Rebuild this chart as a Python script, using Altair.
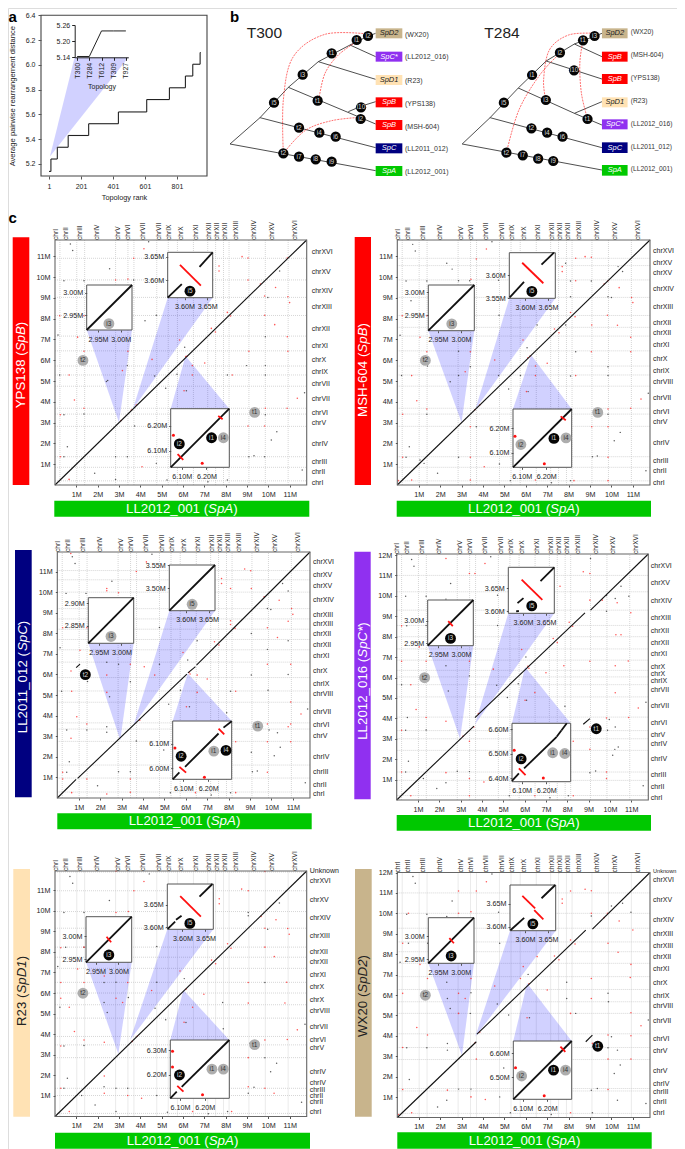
import altair as alt

FONT = "Liberation Sans"
W, H = 669, 1141

# ---------- panel a values ----------
RANK_BREAKS = [1, 13, 53, 121, 249, 435, 612, 754, 854, 900, 946]
RANK_LEVELS = [5.14, 5.24, 5.335, 5.43, 5.525, 5.62, 5.72, 5.815, 5.91, 6.005, 6.10]
TOPOLOGIES = ["T300", "T284", "T612", "T309", "T927"]
TOPOLOGY_VALUES = [5.143, 5.143, 5.238, 5.238, 5.238]

# ---------- panel b values (tree units) ----------
T300_BRANCHES = [(15,432,105,353),(105,353,190,262),(190,262,280,185),(280,185,375,135),(375,135,430,108),
                 (430,108,452,100),(15,432,452,512),(105,353,452,443),(190,262,395,348),(395,348,452,372),
                 (370,335,410,318),(410,318,452,305),(280,185,452,238),(375,135,452,170)]
T300_NODES = [(147,308,"i5"),(233,224,"i3"),(320,160,"t1"),(395,120,"i1"),(429,108,"i2"),(278,302,"t1"),
              (408,322,"i10"),(407,357,"i2"),(222,383,"t2"),(283,398,"i4"),(332,410,"i6"),(175,460,"t2"),
              (222,470,"i7"),(272,478,"i8"),(320,485,"i9")]
T300_ARCS = [[(175,460),(175,300),(205,170),(300,103),(429,102)],
             [(175,460),(240,392),(320,362),(407,352)],
             [(283,290),(300,220),(340,165),(395,125)]]
T300_TIPS = [("SpD2","(WX20)",85,115,105,"tan"),("SpC*","(LL2012_016)",155,185,172,"purple"),
             ("SpD1","(R23)",225,255,243,"moccasin"),("SpB","(YPS138)",292,322,311,"red"),
             ("SpB","(MSH-604)",360,390,380,"red"),("SpC","(LL2011_012)",430,460,448,"navy"),
             ("SpA","(LL2012_001)",498,528,516,"green")]
T284_BRANCHES = [(38,432,125,353),(125,353,213,264),(213,264,300,183),(300,183,388,132),(388,132,474,100),
                 (38,432,474,510),(125,353,474,443),(213,264,388,340),(388,340,474,375),(388,340,474,305),
                 (300,183,474,237),(388,132,474,170)]
T284_NODES = [(168,308,"i5"),(256,225,"i1"),(343,158,"i2"),(415,121,"t1"),(451,108,"i3"),(299,300,"i3"),
              (387,211,"i10"),(429,357,"t1"),(254,385,"t2"),(303,398,"i4"),(351,410,"i6"),(176,458,"t2"),
              (227,466,"i7"),(275,476,"i8"),(322,483,"i9")]
T284_ARCS = [[(176,458),(215,330),(280,225),(343,160)],
             [(299,300),(292,240),(310,150),(370,105),(451,100)],
             [(429,357),(410,280),(405,190),(415,121)]]
T284_TIPS = [("SpD2","(WX20)",85,115,96,"tan"),("SpB","(MSH-604)",155,185,164,"red"),
             ("SpB","(YPS138)",222,252,233,"red"),("SpD1","(R23)",292,322,303,"moccasin"),
             ("SpC*","(LL2012_016)",358,388,371,"purple"),("SpC","(LL2011_012)",427,459,440,"navy"),
             ("SpA","(LL2012_001)",495,527,508,"green")]

# ---------- panel c values (Mb) ----------
X_CHR_POS = [.22,.69,1.38,2.17,3.16,3.63,4.33,5.06,5.53,6.08,6.78,7.41,7.8,8.16,8.69,9.52,10.34,11.42]
X_CHR_A = ["chrI","chrII","chrIII","chrIV","chrV","chrVI","chrVII","chrVII","chrIX","chrX","chrXI","chrXII","chrXII","chrXII","chrXIII","chrXIV","chrXV","chrXVI"]
X_CHR_B = ["chrI","chrII","chrIII","chrIV","chrV","chrVI","chrVII","chrVII","chrIX","chrX","chrXI","chrXII","chrXII","chrXIII","chrXIII","chrXIV","chrXV","chrXVI"]
X_BOUNDS = [.23,1.02,1.39,2.84,3.42,3.7,4.77,5.31,5.74,6.49,7.16,7.53,7.9,8.16,9.09,9.86,10.93]

P1_Y_NAMES = ["chrXVI","chrXV","chrXIV","chrXIII","chrXII","chrXI","chrX","chrIX","chrVII","chrVII","chrVI","chrV","chrIV","chrIII","chrII","chrI"]
P1_Y_POS = [11.21,10.25,9.34,8.54,7.51,6.68,6.0,5.43,4.87,4.15,3.45,2.98,1.99,1.12,.63,.11]
P1_Y_BOUNDS = [.2,.85,1.36,2.82,3.41,3.69,4.75,5.29,5.72,6.45,7.16,8.15,9.02,9.86,10.9]
P2_Y_NAMES = ["chrXVI","chrXV","chrXV","chrXIV","chrXIII","chrXII","chrXII","chrXI","chrX","chrIX","chrVIII","chrVII","chrVI","chrV","chrIV","chrIII","chrII","chrI"]
P2_Y_POS = [11.27,10.69,10.21,9.41,8.57,7.8,7.29,6.71,6.04,5.48,4.94,4.2,3.49,3.04,2.04,1.17,.69,.11]
P2_Y_BOUNDS = [.2,.85,1.36,2.82,3.41,3.69,4.75,5.29,5.72,6.45,7.16,7.58,8.15,9.02,9.86,10.55,10.9]
P3_Y_NAMES = ["chrXVI","chrXV","chrXV","chrXIV","chrXIII","chrXIII","chrXII","chrXII","chrXI","chrX","chrIX","chrVIII","chrVII","chrVI","chrV","chrIV","chrIII","chrII","chrI"]
P3_Y_POS = [11.47,10.83,10.3,9.62,8.91,8.44,7.99,7.41,6.88,6.15,5.52,5.03,4.2,3.55,3.03,2.01,1.28,.65,.19]
P3_Y_BOUNDS = [.29,.97,1.6,2.75,3.35,3.65,4.65,5.2,5.85,6.6,7.2,7.7,8.2,8.7,9.2,10.0,10.6,11.05]
P4_Y_NAMES = ["chrXVI","chrXV","chrXIV","chrXIII","chrXII","chrXII","chrXI","chrX","chrX","chrIX","chrVII","chrVII","chrVI","chrV","chrIV","chrIV","chrIII","chrII","chrI"]
P4_Y_POS = [11.47,10.65,9.75,8.9,8.3,7.7,7.14,6.52,6.18,5.85,5.39,4.58,3.76,3.19,2.76,1.99,1.23,.62,.11]
P4_Y_BOUNDS = [.22,.96,1.37,2.43,3.0,3.4,4.06,5.05,5.65,6.03,6.35,6.85,7.4,8.0,8.55,9.3,10.2,11.0]
P5_Y_NAMES = ["Unknown","chrXVI","chrXV","chrXIV","chrXIII","chrXII","chrXII","chrXI","chrX","chrX","chrVIII","chrVII","chrVI","chrV","chrIV","chrIV","chrIII","chrII","chrII","chrI"]
P5_Y_POS = [11.94,11.45,10.53,9.64,8.75,8.0,7.5,6.9,6.27,5.68,5.15,4.34,3.72,3.32,2.18,1.62,1.31,1.02,.69,.21]
P5_Y_BOUNDS = [.15,1.02,1.37,2.86,3.48,3.89,4.78,5.43,6.0,6.52,7.2,7.74,8.23,9.15,9.96,10.97,11.88]
P6_Y_NAMES = ["Unknown","chrXVI","chrXV","chrXIV","chrXIII","chrXIII","chrXII","chrXI","chrX","chrIX","chrVIII","chrVII","chrVI","chrV","chrV","chrIV","chrIII","chrII","chrI"]
P6_Y_POS = [12.09,11.63,10.64,9.67,8.97,8.38,7.86,7.25,6.58,5.96,5.47,4.71,3.86,3.25,2.29,1.63,1.24,.74,.23]
P6_Y_BOUNDS = [.2,1.3,1.42,2.84,3.43,4.1,5.1,5.67,6.27,6.9,7.55,8.12,8.6,9.27,10.0,11.0,12.0]

P1_BLACK = [(.72,11.59),(.83,11.27),(.42,9.82),(1.36,9.82),(2.56,10.4),(3.69,9.86),(4.39,11.7),(9.98,9.02),(10.53,10.29),(4.22,7.9),(4.75,8.16),(.14,7.21),(6.08,6.62),(9.86,7.13),(.22,5.29),(3.39,5.74),(4.67,5.24),(2.41,4.98),(2.47,5.03),(5.19,4.65),(5.72,5.32),(6.16,4.53),(8.08,5.29),(8.98,5.74),(9.86,5.74),(9.86,5.29),(11.7,4.44),(.42,3.38),(1.36,3.41),(3.73,2.84),(9.86,3.38),(10.4,2.56),(10.14,2.16),(.58,1.84),(.42,1.36),(2.84,1.36),(3.39,1.36),(9.09,1.36),(9.33,1.41),(4.75,1.04),(9.83,1.36),(1.86,.56),(2.84,.27),(11.59,.72),(5.25,.24),(7.17,.16),(8.08,.24)]
P1_RED = [(4.17,11.36),(3.69,10.9),(2.84,9.86),(3.42,9.9),(.22,8.14),(1.36,8.14),(8.77,10.98),(9.05,10.91),(7.69,10.53),(7.69,10.29),(9.05,9.86),(9.63,9.66),(10.34,9.5),(9.83,9.09),(10.92,9.05),(11,8.77),(8.08,8.3),(8.23,8.13),(9.83,8.16),(10.3,7.71),(7.33,7.53),(7.52,7.36),(1.06,7.11),(5.84,6.97),(10.89,7.13),(10.89,10.91),(1.36,6.43),(3.42,6.43),(9.09,6.43),(10.92,6.43),(4.55,6.04),(6.44,5.74),(7.02,5.87),(3.16,5.5),(.66,5.29),(6.44,5.29),(8.31,5.29),(.91,4.09),(6.05,4.53),(11.36,4.17),(1.36,3.69),(.25,3.38),(9.86,3.69),(10.88,3.69),(9.05,2.84),(9.83,2.84),(.25,1.36),(4.08,.88),(.66,.27),(3.81,3.85),(3.58,3.6),(6.2,6.2),(6.13,6.18),(3.1,3.1)]
P2_BLACK = [(.72,11.57),(.84,11.25),(.41,9.81),(1.38,9.81),(2.31,10.66),(2.56,10.38),(2.86,9.82),(3.38,9.82),(4.42,11.7),(4.73,9.84),(.64,8.86),(.13,7.2),(4.75,8.16),(6.06,6.6),(6.53,7.69),(7.86,7.69),(7.86,10.66),(8.09,9.81),(8.09,9.05),(8.33,6.41),(9.06,9.81),(9.84,9.05),(10,9.01),(10.31,10.5),(10.52,10.26),(2.86,6.43),(1.41,5.72),(3.41,5.69),(2.86,5.26),(4.73,5.26),(5.75,5.26),(8.09,5.24),(9.84,5.69),(9.84,5.26),(.2,5.26),(2.47,4.97),(5.2,4.62),(6.11,4.49),(11.72,4.41),(1.38,3.4),(.41,1.33),(2.86,1.33),(.56,1.84),(1.06,1.2),(1.25,1.04),(9.11,1.36),(9.34,1.39),(9.84,3.4),(10.41,2.53),(10.13,2.13),(11.61,.69),(1.88,.56),(4.77,1.01),(5.28,.21),(7.2,.11),(8.09,.21),(3.69,2.8)]
P2_RED = [(4.16,11.35),(3.69,10.87),(3.44,9.89),(.23,8.14),(1.38,8.14),(8.77,10.98),(9.06,10.95),(8.33,10.9),(7.7,10.5),(7.7,10.26),(8.33,9.82),(9.66,9.66),(10.36,9.49),(9.84,9.82),(10.94,9.02),(11,8.77),(8.09,8.29),(8.3,8.09),(9.81,8.16),(10.28,7.68),(7.34,7.5),(7.55,7.32),(1.06,7.1),(5.87,6.97),(10.9,7.1),(9.08,7.69),(1.38,6.41),(3.41,6.41),(9.06,6.41),(10.9,6.41),(4.55,6.01),(3.17,5.45),(.67,5.26),(6.45,5.72),(7,5.85),(6.45,5.26),(8.33,5.26),(.91,4.05),(6.03,4.49),(11.38,4.13),(1.38,3.65),(.25,3.4),(9.84,3.65),(10.9,3.69),(9.08,2.8),(9.84,2.8),(3.41,2.8),(.25,1.33),(3.41,1.33),(4.06,.88),(.67,.24),(3.41,.24),(6.45,.24),(8.25,.21),(9.84,.21),(9.84,1.33),(.05,.21),(3.85,3.85),(3.62,3.62),(6.2,6.2),(6.1,6.12)]
P3_BLACK = [(.7,11.72),(.83,11.39),(.41,9.94),(1.34,9.94),(2.55,10.53),(4.42,11.84),(.13,7.3),(4.77,8.28),(6.53,7.64),(6.09,6.7),(2.31,6.59),(2.86,6.5),(4.77,6.5),(10.78,10.06),(10.52,10.42),(9.81,9.21),(9.97,9.16),(9.06,7.99),(10.78,7.64),(9.81,7.22),(9.06,5.97),(10.78,6),(1.41,5.66),(3.41,5.65),(.2,5.19),(5.75,5.23),(8.09,5.19),(9.84,5.23),(2.44,4.92),(5.2,4.56),(6.17,4.43),(11.69,4.32),(7.91,4.14),(.44,3.3),(1.38,3.3),(2.31,3.46),(2.31,3.19),(9.89,3.3),(10.28,3.17),(10.41,2.46),(10.13,2.05),(.56,1.76),(3.69,2.77),(2.86,1.28),(3.41,1.28),(.44,1.25),(9.11,1.28),(9.34,1.31),(9.06,2.22),(4.97,2.33),(11.58,.74),(1.88,.6),(5.28,.26),(7.19,.15),(8.09,.26)]
P3_RED = [(.63,11.88),(4.16,11.47),(3.69,11),(8.75,11.12),(9.03,11.04),(7.67,10.66),(7.67,10.42),(2.31,10.18),(2.31,10.07),(2.86,9.97),(8.09,10.18),(9.06,10.18),(9.66,9.77),(10.36,9.61),(10.94,9.21),(11,8.92),(8.09,8.61),(10.78,8.59),(8.09,8.43),(8.3,8.24),(9.81,8.27),(.25,8.27),(1.38,8.27),(10.28,7.8),(7.34,7.59),(7.55,7.43),(1.06,7.18),(5.87,7.07),(10.9,6.5),(9.81,6.5),(3.41,6.5),(4.06,6.38),(4.55,5.97),(2.31,5.97),(.64,6.17),(7,5.78),(6.53,5.97),(.67,5.19),(2.31,5.13),(6.53,5.13),(8.33,5.19),(10.9,4.66),(6.03,4.43),(.91,3.95),(11.38,4.08),(10.9,3.59),(9.81,3.59),(1.38,3.59),(10.78,3.46),(.64,2.9),(8.33,2.73),(10.9,2.73),(9.81,2.73),(.25,1.25),(9.81,1.25),(.25,.92),(1.38,.92),(3.41,.92),(.67,.26),(2.31,.19),(3.41,.28),(6.45,.26),(8.33,.26),(3.85,3.78),(6.15,6.1),(6.2,6.02)]
P4_BLACK = [(.7,11.78),(.81,11.45),(.42,9.98),(1.38,9.98),(2.53,10.6),(4.41,11.91),(2.31,9.84),(4.73,10.03),(9.09,11.83),(10.52,10.47),(9.84,9.25),(10.25,9.87),(10.89,9.98),(9.84,10.02),(.47,8.53),(1.38,8.55),(4.73,8.55),(6.06,7.01),(2.31,6.58),(3.41,6.08),(.23,5.65),(5.7,5.69),(4.69,5.62),(2.42,5.34),(5.19,5.02),(6.09,4.89),(7.89,4.59),(11.69,4.79),(.5,4.04),(1.38,3.43),(.42,3.42),(9.89,3.42),(10.25,3.58),(9.97,3.94),(10.39,2.6),(10.23,2.48),(10.13,2.19),(.55,1.9),(2.84,1.41),(3.41,1.39),(.42,1.37),(9.06,1.34),(9.33,1.42),(2.31,.85),(1.25,1.05),(11.56,.7),(1.88,.56),(5.28,.21),(7.19,.11),(8.05,.21)]
P4_RED = [(2.31,11.83),(4.14,11.58),(3.41,11.09),(3.67,11.09),(8.75,11.18),(9.06,11.09),(7.66,10.47),(9.06,9.79),(9.64,9.79),(10.34,9.66),(10.98,9.17),(.23,8.53),(8.09,8.71),(8.25,8.51),(10.28,8.09),(10.52,8.09),(7.34,7.91),(7.53,7.71),(1.06,7.5),(5.86,7.37),(10.86,6.81),(.23,6.8),(1.38,6.8),(3.41,6.8),(9.06,6.8),(7.84,6.58),(10.25,6.58),(4.53,6.41),(7,6.23),(.66,5.65),(6.48,5.26),(10.25,5.25),(.91,4.43),(6.02,4.89),(11.33,4.51),(1.38,4.04),(2.31,3.86),(9.84,4.02),(10.88,4.04),(.23,3.42),(9.06,3.58),(3.41,2.88),(8.28,2.88),(9.06,2.48),(9.84,1.37),(2.31,1.34),(.23,1.37),(3.41,1.05),(4.09,.88),(9.84,1.05),(.66,.21),(3.41,.21),(6.48,.21),(8.28,.21),(3.83,4.23),(3.62,3.58),(6.15,6.55),(6.2,6.45),(3.1,3.12)]
P5_BLACK = [(.7,11.66),(.83,11.34),(.42,9.91),(1.36,9.91),(2.55,10.5),(4.42,11.79),(9.06,9.91),(9.06,9.75),(10.52,10.37),(9.97,9.1),(.13,7.29),(.5,8.23),(1.36,8.23),(4.77,8.26),(6.06,6.7),(2.3,6.51),(2.86,6.52),(4.77,6.52),(9.84,6.51),(7.86,5.54),(2.3,5.54),(3.44,5.78),(.23,5.31),(4.69,5.26),(2.45,5.05),(5.19,4.7),(6.14,4.57),(7.89,4.26),(11.72,4.48),(.42,3.43),(1.36,3.45),(9.14,3.56),(9.84,2.86),(10.39,2.59),(10.11,2.18),(.58,1.86),(.42,1.37),(2.3,1.45),(2.86,1.37),(3.41,1.37),(9.06,1.13),(9.33,1.42),(7.86,1.45),(4.77,1.02),(1.25,1.02),(11.56,.69),(1.88,.56),(5.27,.21),(7.19,.13),(2.86,.24),(8.09,.24)]
P5_RED = [(2.86,11.92),(9.84,11.91),(4.17,11.42),(3.7,10.97),(8.75,11.05),(9.06,10.97),(7.7,10.58),(7.7,10.34),(2.86,9.91),(3.44,9.96),(10.36,9.56),(9.66,9.72),(9.84,9.15),(10.91,9.14),(10.98,8.86),(8.09,8.39),(8.25,8.18),(9.84,8.23),(.27,8.2),(1.36,8.23),(10.28,7.77),(7.34,7.6),(7.53,7.42),(1.06,7.17),(5.86,7.07),(2.31,6.83),(.27,6.51),(1.36,6.51),(3.41,6.51),(9.06,6.51),(10.86,6.52),(4.53,6.12),(6.98,5.94),(.27,5.75),(2.86,5.75),(3.17,5.54),(9.06,5.51),(10.78,5.52),(.67,5.31),(6.45,5.31),(6.05,4.58),(.91,4.13),(11.36,4.21),(1.36,3.72),(9.84,3.72),(10.89,3.74),(2.31,3.61),(.27,3.43),(6.53,3.61),(9.06,2.86),(2.31,1.97),(7.86,1.99),(.27,1.37),(9.06,1.45),(9.84,1.37),(2.31,1.13),(10.27,1.13),(3.41,1.02),(4.06,.89),(7.11,1.05),(.67,.24),(6.45,.24),(8.28,.24),(3.85,3.9),(3.62,3.65),(6.15,6.2)]
P6_BLACK = [(.73,11.8),(.84,11.47),(.44,9.95),(1.38,9.95),(2.56,10.6),(4.42,11.93),(2.31,9.84),(4.73,10.05),(7.55,12.0),(9.06,9.87),(10.52,10.49),(10,10.36),(10.91,10.05),(.13,7.6),(.52,8.53),(1.42,8.53),(4.78,8.53),(6.11,7.01),(2.31,6.62),(3.44,6.11),(2.34,5.83),(7.91,6.62),(7.91,5.83),(9.84,6.08),(9.86,5.67),(4.67,5.56),(2.47,5.34),(3.41,5.1),(5.2,5.02),(6.17,4.89),(8.33,5.1),(11.72,4.77),(2.34,3.63),(2.34,3.3),(.44,3.42),(1.38,3.42),(9.84,3.42),(10,3.95),(10.28,3.3),(10.41,2.57),(10.13,2.16),(.56,1.86),(4.97,2.43),(2.86,1.39),(3.44,1.39),(9.06,1.34),(9.34,1.42),(2.31,.85),(10.28,.85),(11.61,.69),(1.88,.52),(5.28,.23),(7.19,.15),(4.78,1.01),(9.11,.23)]
P6_RED = [(2.86,11.09),(3.69,11.09),(4.16,11.55),(8.77,11.18),(9.06,11.11),(8.09,11.09),(7.7,10.7),(7.7,10.49),(.52,10),(2.86,10),(3.44,10.08),(9.06,10),(9.81,10),(9.66,9.79),(10.36,9.62),(11,9.18),(8.09,8.69),(8.3,8.5),(9.84,8.53),(.25,8.53),(10.31,8.09),(6.53,7.88),(7.34,7.91),(7.55,7.73),(1.06,7.5),(10.91,7.5),(5.88,7.39),(1.41,6.81),(3.44,6.81),(5.75,6.81),(9.06,6.81),(10.88,6.86),(4.55,6.44),(7,6.24),(.25,6.08),(2.86,6.08),(3.17,5.83),(9.06,5.83),(8.09,5.1),(10.91,5.13),(2.86,5.1),(6.06,4.89),(.91,4.41),(11.38,4.49),(1.41,4.04),(9.84,4.04),(10.91,4),(9.11,3.63),(.25,3.43),(3.69,2.86),(9.84,2.86),(10.91,2.86),(.25,1.37),(2.34,1.34),(9.84,1.37),(3.44,1.01),(4.11,.88),(.67,.23),(8.09,.23),(3.85,4.18),(3.62,3.65),(6.15,6.55),(.05,.15)]

DIAG_P1 = [(0,0,11.8,11.78)]
DIAG_P2 = [(0,0,11.8,11.78)]
DIAG_P3 = [(0,0,.88,.9),(.95,.95,6.05,6.02),(6.1,6.08,6.45,6.38),(6.5,6.45,11.8,11.95),(.88,6.33,1.06,6.5)]
DIAG_P4 = [(0,0,3.62,3.62),(3.67,4.04,8.83,9.17),(9.09,9.3,11.8,12.05),(8.75,3.71,9.06,3.99)]
DIAG_P5 = [(0,0,11.8,11.93)]
DIAG_P6 = [(0,0,3.69,3.71),(3.72,4.08,8.8,9.18),(9.11,9.23,11.8,12.0),(8.8,3.71,9.11,4.04)]

COLORS = {"red":"#ff0000","navy":"#000080","purple":"#9030f0","moccasin":"#ffe2b4","tan":"#c8b48c","green":"#00c800"}

def corner(xd, yd):
    return [(xd[0], yd[0], xd[1], yd[1])]

INSETS = {
 "P1": [
  dict(box=(86.7,132,285,330), xd=(2.925,3.025), yd=(2.917,3.017), xt=[2.95,3.0], yt=[2.95,3.0], k=None, r=[], d=[], c=[(2.974,2.931,"i3",0)], apex=(3.0,3.0), edge="b"),
  dict(box=(167.7,212.7,252.3,297.7), xd=(3.563,3.662), yd=(3.563,3.66), xt=[3.6,3.65], yt=[3.6,3.65],
       k=[(3.563,3.563,3.594,3.592),(3.633,3.629,3.662,3.66)], r=[(3.59,3.633,3.636,3.589)], d=[], c=[(3.612,3.577,"i5",1)], apex=(3.65,3.65), edge="b"),
  dict(box=(170.7,229.3,408.7,467.3), xd=(6.055,6.293), yd=(6.032,6.27), xt=[6.1,6.2], yt=[6.1,6.2], k=None,
       r=[(6.083,6.086,6.106,6.062),(6.248,6.24,6.266,6.227)], d=[(6.066,6.162),(6.183,6.048)],
       c=[(6.09,6.127,"i2",1),(6.221,6.152,"i1",1),(6.269,6.152,"i4",0)], apex=(6.12,6.2), edge="t")],
 "P2": [
  dict(box=(428.3,474.3,285,330.7), xd=(2.929,3.029), yd=(2.916,3.016), xt=[2.95,3.0], yt=[2.95,3.0], k=None, r=[], d=[], c=[(2.98,2.931,"i3",0)], apex=(3.0,3.0), edge="b"),
  dict(box=(509.3,555.3,252.7,298.3), xd=(3.566,3.666), yd=(3.55,3.65), xt=[3.6,3.65], yt=[3.55,3.6],
       k=[(3.567,3.552,3.598,3.586),(3.636,3.624,3.663,3.65)], r=[(3.594,3.628,3.64,3.583)], d=[], c=[(3.615,3.565,"i5",1)], apex=(3.65,3.65), edge="b"),
  dict(box=(513,571.7,409,467.3), xd=(6.065,6.303), yd=(6.041,6.279), xt=[6.1,6.2], yt=[6.1,6.2], k=None,
       r=[(6.258,6.249,6.279,6.233)], d=[(6.073,6.168),(6.192,6.055)],
       c=[(6.097,6.134,"i2",0),(6.231,6.159,"i1",1),(6.28,6.161,"i4",0)], apex=(6.25,6.25), edge="t")],
 "P3": [
  dict(box=(88.3,133.7,597.7,643.3), xd=(2.927,3.027), yd=(2.812,2.912), xt=[2.95,3.0], yt=[2.85,2.9], k=None, r=[], d=[], c=[(2.977,2.827,"i3",0)], apex=(2.94,2.8), edge="b"),
  dict(box=(169.3,215,565,610.7), xd=(3.564,3.664), yd=(3.451,3.551), xt=[3.6,3.65], yt=[3.5,3.55], k=None, r=[], d=[], c=[(3.614,3.465,"i5",0)], apex=(3.56,3.54), edge="b"),
  dict(box=(172.7,231.7,721,779.3), xd=(6.057,6.295), yd=(5.955,6.193), xt=[6.1,6.2], yt=[6.0,6.1],
       k=[(6.057,5.955,6.084,5.983),(6.107,6.006,6.242,6.142),(6.262,6.166,6.295,6.192)],
       r=[(6.084,6.006,6.111,5.982),(6.242,6.162,6.265,6.138)], d=[(6.066,6.083),(6.185,5.963)],
       c=[(6.091,6.049,"i2",1),(6.223,6.07,"i1",0),(6.272,6.073,"i4",1)], apex=(6.09,6.05), edge="t")],
 "P4": [
  dict(box=(427.7,473.3,600,645.7), xd=(2.927,3.027), yd=(2.945,3.045), xt=[2.95,3.0], yt=[2.95,3.0], k=None,
       r=[(2.972,2.999,2.982,2.988)], d=[], c=[(2.977,2.961,"i3",1)], apex=(2.97,3.0), edge="b"),
  dict(box=(508.3,554.3,567.3,613.3), xd=(3.568,3.668), yd=(3.596,3.696), xt=[3.6,3.65], yt=[3.6,3.65],
       k=[(3.585,3.6,3.591,3.601),(3.588,3.618,3.601,3.629),(3.638,3.666,3.668,3.696)], r=[(3.597,3.669,3.642,3.625)], d=[],
       c=[(3.619,3.612,"i5",1)], apex=(3.67,3.7), edge="b"),
  dict(box=(512,570.7,723.3,781.7), xd=(6.061,6.299), yd=(6.386,6.624), xt=[6.1,6.2], yt=[6.4,6.5,6.6],
       k=[(6.061,6.389,6.089,6.42),(6.11,6.44,6.242,6.569),(6.242,6.569,6.262,6.596),(6.262,6.596,6.283,6.624)],
       r=[(6.089,6.44,6.116,6.413)], d=[(6.07,6.514),(6.188,6.401)],
       c=[(6.098,6.479,"i2",1),(6.226,6.504,"i1",0),(6.275,6.501,"i4",0)], apex=(6.02,6.52), edge="t")],
 "P5": [
  dict(box=(86,131.7,916.7,962.3), xd=(2.929,3.029), yd=(2.943,3.043), xt=[2.95,3.0], yt=[2.95,3.0], k=None,
       r=[(2.974,2.999,2.984,2.987)], d=[], c=[(2.979,2.959,"i3",1)], apex=(2.97,3.04), edge="b"),
  dict(box=(167.3,213.3,884,929.3), xd=(3.567,3.667), yd=(3.596,3.696), xt=[3.6,3.65], yt=[3.6,3.65],
       k=[(3.568,3.597,3.584,3.613),(3.586,3.617,3.598,3.626),(3.637,3.668,3.665,3.696)], r=[(3.595,3.669,3.64,3.624)], d=[],
       c=[(3.616,3.609,"i5",1)], apex=(3.52,3.72), edge="b"),
  dict(box=(170.3,229.3,1040,1098.3), xd=(6.061,6.299), yd=(6.103,6.341), xt=[6.1,6.2], yt=[6.2,6.3],
       k=[(6.061,6.103,6.087,6.13),(6.107,6.15,6.299,6.341)], r=[(6.089,6.154,6.114,6.13)], d=[(6.07,6.295),(6.07,6.231),(6.191,6.117)],
       c=[(6.098,6.198,"i2",1),(6.229,6.222,"i1",0),(6.275,6.222,"i4",0)], apex=(6.02,6.15), edge="t")],
 "P6": [
  dict(box=(428.3,474,917.7,963.3), xd=(2.929,3.029), yd=(2.941,3.041), xt=[2.95,3.0], yt=[2.95,3.0], k=None,
       r=[(2.975,2.996,2.985,2.985)], d=[], c=[(2.979,2.957,"i3",1)], apex=(3.02,3.05), edge="b"),
  dict(box=(510,555.7,885,930.7), xd=(3.567,3.667), yd=(3.591,3.691), xt=[3.6,3.65], yt=[3.6,3.65],
       k=[(3.568,3.592,3.598,3.619),(3.636,3.662,3.666,3.691)], r=[(3.594,3.667,3.622,3.64),(3.62,3.636,3.64,3.616)], d=[],
       c=[(3.617,3.606,"i5",1)], apex=(3.64,3.95), edge="b"),
  dict(box=(513.3,571.7,1041,1099.3), xd=(6.062,6.3), yd=(6.411,6.649), xt=[6.1,6.2], yt=[6.5,6.6], k=None,
       r=[(6.254,6.626,6.274,6.605)], d=[(6.071,6.54),(6.188,6.426)],
       c=[(6.096,6.506,"i2",0),(6.226,6.53,"i1",1),(6.275,6.53,"i4",0)], apex=(6.06,6.57), edge="t")],
}

PANELS = [
 dict(id="P1", frame=(55,306.7,240,485), ymax=11.78, yt=list(range(1,12)), xn=X_CHR_A, yn=P1_Y_NAMES, yp=P1_Y_POS, yb=P1_Y_BOUNDS, black=P1_BLACK, red=P1_RED, diag=DIAG_P1, gap=5,
      side=(12.7,29.3,237.3,485), bottom=(54.3,309.3,500.7,516.7), col="red", name=("YPS138 (","SpB",")"), tc="white", cy=365, t2=0, t1=0),
 dict(id="P2", frame=(397.3,650,240,485), ymax=11.78, yt=list(range(1,12)), xn=X_CHR_A, yn=P2_Y_NAMES, yp=P2_Y_POS, yb=P2_Y_BOUNDS, black=P2_BLACK, red=P2_RED, diag=DIAG_P2, gap=3,
      side=(354.7,371,237,485), bottom=(396.7,651,500.7,516.7), col="red", name=("MSH-604 (","SpB",")"), tc="white", cy=370, t2=0, t1=0),
 dict(id="P3", frame=(57.3,310,552,798), ymax=11.95, yt=list(range(1,12)), xn=X_CHR_B, yn=P3_Y_NAMES, yp=P3_Y_POS, yb=P3_Y_BOUNDS, black=P3_BLACK, red=P3_RED, diag=DIAG_P3, gap=3,
      side=(15,31.7,550,797.3), bottom=(57.3,311.7,813.3,829.3), col="navy", name=("LL2011_012 (","SpC",")"), tc="white", cy=677, t2=1, t1=0),
 dict(id="P4", frame=(396.7,648.3,554,800), ymax=12.05, yt=list(range(1,13)), xn=X_CHR_A, yn=P4_Y_NAMES, yp=P4_Y_POS, yb=P4_Y_BOUNDS, black=P4_BLACK, red=P4_RED, diag=DIAG_P4, gap=2.5,
      side=(354.3,370.7,551.7,799.3), bottom=(396.7,651,815,830.7), col="purple", name=("LL2012_016 (","SpC*",")"), tc="white", cy=681, t2=0, t1=1),
 dict(id="P5", frame=(55,306.7,871,1116.5), ymax=11.93, yt=list(range(1,12)), xn=X_CHR_A, yn=P5_Y_NAMES, yp=P5_Y_POS, yb=P5_Y_BOUNDS, black=P5_BLACK, red=P5_RED, diag=DIAG_P5, gap=3,
      side=(13.3,30,869,1116.7), bottom=(55,310,1132.7,1148.7), col="moccasin", name=("R23 (","SpD1",")"), tc="#222222", cy=991, t2=0, t1=0),
 dict(id="P6", frame=(397.3,650,872.5,1117.5), ymax=12.0, yt=list(range(1,13)), xn=X_CHR_A, yn=P6_Y_NAMES, yp=P6_Y_POS, yb=P6_Y_BOUNDS, black=P6_BLACK, red=P6_RED, diag=DIAG_P6, gap=3,
      side=(355,371.7,869,1116.7), bottom=(397.3,651.7,1132.3,1148.7), col="tan", name=("WX20 (","SpD2",")"), tc="#222222", cy=996, t2=0, t1=1),
]
XMAX = 11.8
LAYERS = []

def sx(d, r): return alt.Scale(domain=list(d), range=[r[0]-8, r[1]-8], nice=False, zero=False)
def X(f, d, r, axis=None): return alt.X(f, type="quantitative", scale=sx(d, r), axis=axis)
def Y(f, d, r, axis=None): return alt.Y(f, type="quantitative", scale=sx(d, r), axis=axis)
def dat(rows): return alt.Data(values=rows)

def ax_bottom(y_px, **kw):
    base = dict(orient="bottom", offset=(y_px-8)-H, title=None, grid=False, domain=False, zindex=1, tickSize=2, tickColor="#555555",
                labelFont=FONT, labelFontSize=7, labelColor="#222222", labelPadding=2, labelOverlap=False, labelFlush=False, labelBound=False)
    base.update(kw); return alt.Axis(**base)
def ax_left(x_px, **kw):
    base = dict(orient="left", offset=-(x_px-8), title=None, grid=False, domain=False, zindex=1, tickSize=2, tickColor="#555555",
                labelFont=FONT, labelFontSize=7, labelColor="#222222", labelPadding=2, labelOverlap=False, labelFlush=False, labelBound=False)
    base.update(kw); return alt.Axis(**base)

def add_segments(segs, xd, xr, yd, yr, color, width, dash=None, xax=None, yax=None):
    if not segs: return
    rows = [dict(x=a, y=b, x2=c, y2=e) for a, b, c, e in segs]
    kw = dict(color=color, strokeWidth=width)
    if dash: kw["strokeDash"] = dash
    LAYERS.append(alt.Chart(dat(rows)).mark_rule(**kw).encode(
        x=X("x", xd, xr, xax), y=Y("y", yd, yr, yax), x2=alt.X2("x2"), y2=alt.Y2("y2")))

def add_dots(pts, xd, xr, yd, yr, color, size, opacity=0.85):
    if not pts: return
    rows = [dict(x=a, y=b) for a, b in pts]
    LAYERS.append(alt.Chart(dat(rows)).mark_point(filled=True, size=size, color=color, opacity=opacity, strokeWidth=0).encode(
        x=X("x", xd, xr), y=Y("y", yd, yr)))

def add_circles(circ, xd, xr, yd, yr, size=118, fs=6.5):
    rows = [dict(x=a, y=b, t=t, c="#050505" if k else "#adadad", tc="#d8d8d8" if k else "#333333") for a, b, t, k in circ]
    LAYERS.append(alt.Chart(dat(rows)).mark_point(filled=True, size=size, opacity=1, strokeWidth=0).encode(
        x=X("x", xd, xr), y=Y("y", yd, yr), color=alt.Color("c:N", scale=None)))
    LAYERS.append(alt.Chart(dat(rows)).mark_text(font=FONT, fontSize=fs, align="center", baseline="middle").encode(
        x=X("x", xd, xr), y=Y("y", yd, yr), text="t:N", color=alt.Color("tc:N", scale=None)))

def add_frame(xd, xr, yd, yr, stroke, width, fill=None, xax=None, yax=None):
    rows = [dict(x=xd[0], x2=xd[1], y=yd[0], y2=yd[1])]
    kw = dict(stroke=stroke, strokeWidth=width)
    if fill: kw.update(fill=fill, opacity=1)
    else: kw.update(fillOpacity=0)
    LAYERS.append(alt.Chart(dat(rows)).mark_rect(**kw).encode(
        x=X("x", xd, xr, xax), x2=alt.X2("x2"), y=Y("y", yd, yr, yax), y2=alt.Y2("y2")))

WIDTHS = {"L":.556,"2":.556,"0":.556,"1":.556,"6":.556,"4":.556,"3":.556,"8":.556,"_":.556,"Y":.667,"P":.667,"S":.667,"M":.833,"H":.722,"R":.722,"W":.944,"X":.667,
          "-":.333," ":.278,"(":.333,")":.333,"p":.556,"A":.667,"B":.667,"C":.722,"D":.722,"*":.389}
def run_width(s, fs): return sum(WIDTHS.get(ch, .556) for ch in s)*fs

def add_title_bar(box, color, parts, tc, vertical=False, cy=None, fs=13.3):
    x0, x1, y0, y1 = box
    rows = [dict(x=0, x2=1, y=0, y2=1)]
    LAYERS.append(alt.Chart(dat(rows)).mark_rect(color=color).encode(
        x=X("x", (0,1), (x0,x1)), x2=alt.X2("x2"), y=Y("y", (0,1), (y1,y0)), y2=alt.Y2("y2")))
    total = sum(run_width(p, fs) for p in parts)
    pos = 0
    for i, p in enumerate(parts):
        style = "italic" if i == 1 else "normal"
        if vertical:
            start = (cy if cy else (y0+y1)/2) + total/2
            row = [dict(u=pos, t=p)]
            LAYERS.append(alt.Chart(dat(row)).mark_text(font=FONT, fontSize=fs, fontStyle=style, color=tc, angle=270, align="left", baseline="middle").encode(
                x=alt.value((x0+x1)/2-8), y=Y("u", (0,total), (start,start-total)), text="t:N"))
        else:
            start = (x0+x1)/2 - total/2
            row = [dict(u=pos, t=p)]
            LAYERS.append(alt.Chart(dat(row)).mark_text(font=FONT, fontSize=fs, fontStyle=style, color=tc, align="left", baseline="middle").encode(
                x=X("u", (0,total), (start,start+total)), y=alt.value((y0+y1)/2-8), text="t:N"))
        pos += run_width(p, fs)

# ---------- panel a ----------
A_X, A_XR = (-49, 989), (41, 207)
A_Y, A_YR = (5.103, 6.4), (176, 15.3)
add_frame(A_X, A_XR, A_Y, A_YR, "#444444", 1.1,
          xax=ax_bottom(176, values=[1,201,401,601,801], title="Topology rank", titleFont=FONT, titleFontSize=7.3, titleFontWeight="normal", titleColor="#222222", titlePadding=4, tickSize=3, labelPadding=3),
          yax=ax_left(41, values=[5.2,5.4,5.6,5.8,6.0,6.2,6.4], format=".1f", title="Average pairwise rearrangement distance", titleFont=FONT, titleFontSize=7.6, titleFontWeight="normal", titleColor="#222222", titlePadding=9, tickSize=3, labelPadding=3))
LAYERS.append(alt.Chart(dat([dict(y=5.26, x=7, x2=7), dict(y=6.06, x=161, x2=497)])).mark_area(orient="horizontal", color="#0000ff", opacity=0.18).encode(
    x=X("x", A_X, A_XR), x2=alt.X2("x2"), y=Y("y", A_Y, A_YR)))
steps = []
for i in range(len(RANK_BREAKS)-1):
    steps.append((RANK_BREAKS[i], RANK_LEVELS[i], RANK_BREAKS[i+1], RANK_LEVELS[i]))
    steps.append((RANK_BREAKS[i+1], RANK_LEVELS[i], RANK_BREAKS[i+1], RANK_LEVELS[i+1]))
steps.append((RANK_BREAKS[-1], RANK_LEVELS[-1], 950, RANK_LEVELS[-1]))
add_segments(steps, A_X, A_XR, A_Y, A_YR, "#222222", 1.1)
topo_rows = [dict(t=t, v=v) for t, v in zip(TOPOLOGIES, TOPOLOGY_VALUES)]
LAYERS.append(alt.Chart(dat(topo_rows)).mark_line(color="#222222", strokeWidth=1).encode(
    x=alt.X("t:N", sort=TOPOLOGIES, scale=alt.Scale(type="point", domain=TOPOLOGIES, range=[74.7-8, 128.3-8], padding=0.2),
            axis=ax_bottom(57.3, labelAngle=270, domain=True, domainColor="#222222", tickColor="#222222", tickSize=3, title="Topology", titleFont=FONT, titleFontSize=7, titleFontWeight="normal", titleColor="#222222", titlePadding=4, labelPadding=2)),
    y=alt.Y("v:Q", scale=sx((5.14,5.26),(57.3,25)), axis=ax_left(74.7, values=[5.14,5.2,5.26], format=".2f", domain=True, domainColor="#222222", tickColor="#222222", tickSize=3))))

# ---------- panel b ----------
def tree(label, tx, branches, nodes, arcs, tips, xdom, xr, box_x, lab_x, lab_fs):
    yd, yr = (0, 645), (0, 215)
    add_segments(branches, xdom, xr, yd, yr, "#222222", 0.8)
    for arc in arcs:
        rows = [dict(x=a, y=b, i=n) for n, (a, b) in enumerate(arc)]
        LAYERS.append(alt.Chart(dat(rows)).mark_line(color="#ff3030", strokeWidth=0.7, strokeDash=[2,1], interpolate="cardinal").encode(
            x=X("x", xdom, xr), y=Y("y", yd, yr), order=alt.Order("i:Q")))
    add_circles([(a, b, t, 1) for a, b, t in nodes], xdom, xr, yd, yr, size=105, fs=6.5)
    rows = [dict(x=box_x[0], x2=box_x[1], y=a, y2=b, c=COLORS[c]) for _, _, a, b, _, c in tips]
    LAYERS.append(alt.Chart(dat(rows)).mark_rect().encode(
        x=X("x", xdom, xr), x2=alt.X2("x2"), y=Y("y", yd, yr), y2=alt.Y2("y2"), color=alt.Color("c:N", scale=None)))
    rows = [dict(x=(box_x[0]+box_x[1])/2, y=(a+b)/2, t=n, c="#222222" if c in ("tan","moccasin") else "#ffffff") for n, _, a, b, _, c in tips]
    LAYERS.append(alt.Chart(dat(rows)).mark_text(font=FONT, fontSize=7.5, fontStyle="italic", align="center", baseline="middle").encode(
        x=X("x", xdom, xr), y=Y("y", yd, yr), text="t:N", color=alt.Color("c:N", scale=None)))
    rows = [dict(x=lab_x, y=y, t=s) for _, s, _, _, y, _ in tips]
    LAYERS.append(alt.Chart(dat(rows)).mark_text(font=FONT, fontSize=lab_fs, color="#333333", align="left", baseline="middle").encode(
        x=X("x", xdom, xr), y=Y("y", yd, yr), text="t:N"))
    LAYERS.append(alt.Chart(dat([dict(x=tx, y=100, t=label)])).mark_text(font=FONT, fontSize=15.5, color="#222222", align="left", baseline="middle").encode(
        x=X("x", xdom, xr), y=Y("y", yd, yr), text="t:N"))

tree("T300", 65, T300_BRANCHES, T300_NODES, T300_ARCS, T300_TIPS, (0,720), (225,465), (452,532), 540, 7)
tree("T284", 107, T284_BRANCHES, T284_NODES, T284_ARCS, T284_TIPS, (0,705), (450,676), (474,554), 564, 6.7)

# ---------- panel letters ----------
for s, lx, ly in [("a", 8.5, 17), ("b", 230, 17), ("c", 8.5, 218)]:
    LAYERS.append(alt.Chart(dat([dict(x=0, y=0, t=s)])).mark_text(font=FONT, fontSize=15, fontWeight="bold", color="#000000", align="left", baseline="middle").encode(
        x=X("x", (0,1), (lx,lx+10)), y=Y("y", (0,1), (ly,ly+10)), text="t:N"))

# ---------- panel c ----------
for P in PANELS:
    L, R, T, B = P["frame"]
    xd, xr = (0, XMAX), (L, R)
    yd, yr = (0, P["ymax"]), (B, T)
    grid = [(v, 0, v, P["ymax"]) for v in X_BOUNDS] + [(0, v, XMAX, v) for v in P["yb"]]
    add_segments(grid, xd, xr, yd, yr, "#cccccc", 0.8, dash=[1,1],
                 xax=ax_bottom(B, values=list(range(1,12)), labelExpr="datum.value+'M'", labelFontSize=7.2, labelPadding=3),
                 yax=ax_left(L, values=P["yt"], labelExpr="datum.value+'M'", labelFontSize=7.2, labelPadding=3))
    for ins in INSETS[P["id"]]:
        bx0, bx1, by0, by1 = ins["box"]
        ax, ay = ins["apex"]
        edge = by1 if ins["edge"] == "b" else by0
        ey = (B-edge)/(B-T)*P["ymax"]
        e0 = (bx0-L)/(R-L)*XMAX
        e1 = (bx1-L)/(R-L)*XMAX
        LAYERS.append(alt.Chart(dat([dict(y=ay, x=ax, x2=ax), dict(y=ey, x=e0, x2=e1)])).mark_area(orient="horizontal", color="#0000ff", opacity=0.18).encode(
            x=X("x", xd, xr), x2=alt.X2("x2"), y=Y("y", yd, yr)))
    add_dots(P["black"], xd, xr, yd, yr, "#333333", 2.2, 0.8)
    add_dots(P["red"], xd, xr, yd, yr, "#ff2a2a", 2.4, 0.8)
    add_segments(P["diag"], xd, xr, yd, yr, "#111111", 1.1)
    add_circles([(1.31, 5.99, "t2", P["t2"]), (9.36, 3.49, "t1", P["t1"])], xd, xr, yd, yr)
    rows = [dict(x=a, t=t, y=P["ymax"]) for a, t in zip(X_CHR_POS, P["xn"])]
    LAYERS.append(alt.Chart(dat(rows)).mark_text(font=FONT, fontSize=6.6, color="#222222", angle=270, align="left", baseline="middle", dy=-4).encode(
        x=X("x", xd, xr), y=Y("y", yd, yr), text="t:N"))
    is_right = L > 300
    rows = [dict(x=XMAX, y=a, t=t) for a, t in zip(P["yp"], P["yn"]) if not (is_right and t == "Unknown")]
    LAYERS.append(alt.Chart(dat(rows)).mark_text(font=FONT, fontSize=7, color="#222222", align="left", baseline="middle", dx=P["gap"]).encode(
        x=X("x", xd, xr), y=Y("y", yd, yr), text="t:N"))
    extra = [dict(x=XMAX, y=a, t=t) for a, t in zip(P["yp"], P["yn"]) if is_right and t == "Unknown"]
    if extra:
        LAYERS.append(alt.Chart(dat(extra)).mark_text(font=FONT, fontSize=5.6, color="#222222", align="left", baseline="middle", dx=P["gap"]).encode(
            x=X("x", xd, xr), y=Y("y", yd, yr), text="t:N"))
    add_frame(xd, xr, yd, yr, "#666666", 1.1)
    add_title_bar(P["side"], COLORS[P["col"]], P["name"], P["tc"], vertical=True, cy=P["cy"])
    add_title_bar(P["bottom"], COLORS["green"], ("LL2012_001 (", "SpA", ")"), "#ffffff")
    for ins in INSETS[P["id"]]:
        bx0, bx1, by0, by1 = ins["box"]
        ixd, ixr, iyd, iyr = ins["xd"], (bx0, bx1), ins["yd"], (by1, by0)
        add_frame(ixd, ixr, iyd, iyr, "#555555", 1.0, fill="#ffffff",
                  xax=ax_bottom(by1, values=ins["xt"], labelExpr="format(datum.value,'.2f')+'M'", labelFontSize=7.2, labelPadding=3),
                  yax=ax_left(bx0, values=ins["yt"], labelExpr="format(datum.value,'.2f')+'M'", labelFontSize=7.2, labelPadding=2))
        blacks = ins["k"] if ins["k"] is not None else corner(ins["xd"], ins["yd"])
        add_segments(blacks, ixd, ixr, iyd, iyr, "#111111", 1.8)
        add_segments(ins["r"], ixd, ixr, iyd, iyr, "#ff1010", 1.8)
        add_dots(ins["d"], ixd, ixr, iyd, iyr, "#ff1010", 9, 1)
        add_circles(ins["c"], ixd, ixr, iyd, iyr)

chart = alt.layer(*LAYERS).resolve_scale(x="independent", y="independent").properties(
    width=W, height=H, padding=0, autosize=alt.AutoSizeParams(type="none"),
).configure_view(stroke=None).configure(font=FONT)
chart.save("out.html", embed_options={"renderer": "svg", "actions": False})
